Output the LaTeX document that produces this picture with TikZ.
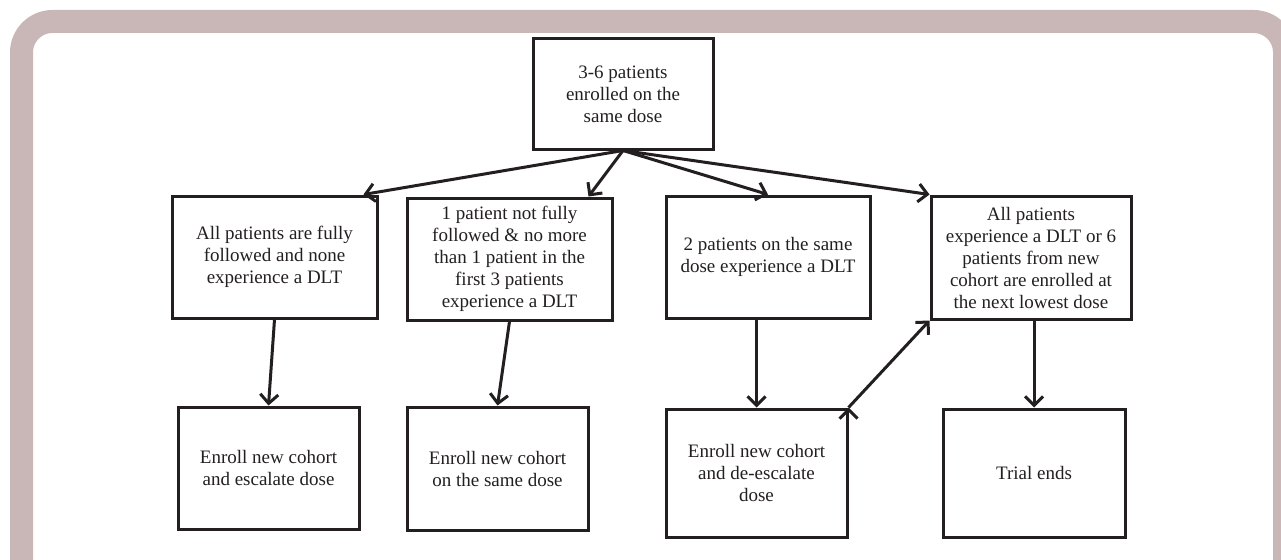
\documentclass[tikz,border=0pt]{standalone}
\usepackage{fontspec}
\setmainfont{Liberation Serif}
\usetikzlibrary{arrows.meta}
\definecolor{framecol}{RGB}{201,183,183}
\definecolor{inkcol}{RGB}{35,31,32}

\begin{document}
\begin{tikzpicture}[x=1pt,y=-1pt,->,>={Straight Barb[length=9pt,width=18pt]},line width=3pt,main node/.style={->,draw=inkcol,text=inkcol,rectangle,align=center,inner sep=2pt,font=\fontsize{19}{22}\selectfont}]
            \useasboundingbox (0,0) rectangle (1281,559);
            \draw[-,line width=23pt,framecol,rounded corners=31pt] (21.5,21.5) rectangle (1284.5,620);

            \node[main node,minimum width=180,minimum height=110] (1) at (623,94) {3-6 patients\\enrolled on the\\same dose};

            \node[main node,minimum width=205,minimum height=122] (2) at (274.5,257) {All patients are fully\\followed and none\\experience a DLT};
            \node[main node,minimum width=205,minimum height=122] (3) at (509.5,259) {1 patient not fully\\followed \& no more\\than 1 patient in the\\first 3 patients\\experience a DLT};
            \node[main node,minimum width=204,minimum height=122] (4) at (768,257) {2 patients on the same\\dose experience a DLT};
            \node[main node,minimum width=200,minimum height=123] (5) at (1031,257.5) {All patients\\experience a DLT or 6\\patients from new\\cohort are enrolled at\\the next lowest dose};

            \node[main node,minimum width=181,minimum height=122] (6) at (268.5,468) {Enroll new cohort\\and escalate dose};
            \node[main node,minimum width=181,minimum height=123] (7) at (497.5,468.5) {Enroll new cohort\\on the same dose};
            \node[main node,minimum width=181,minimum height=128] (8) at (756.5,473) {Enroll new cohort\\and de-escalate\\dose};
            \node[main node,minimum width=182,minimum height=128] (9) at (1034,473) {Trial ends};

            \path[draw=inkcol]
                (1.south) edge ([xshift=-15pt]2.north east)
                (1.south) edge ([xshift=-25pt]3.north east)
                (1.south) edge (4.north)
                (1.south) edge (5.north west)
                (2.south) edge (6.north)
                (3.south) edge (7.north)
                (4.south -| 8.north) edge (8.north)
                (5.south -| 9.north) edge (9.north)
                (8.north east) edge (5.south west)
                ;
        \end{tikzpicture}
\end{document}
